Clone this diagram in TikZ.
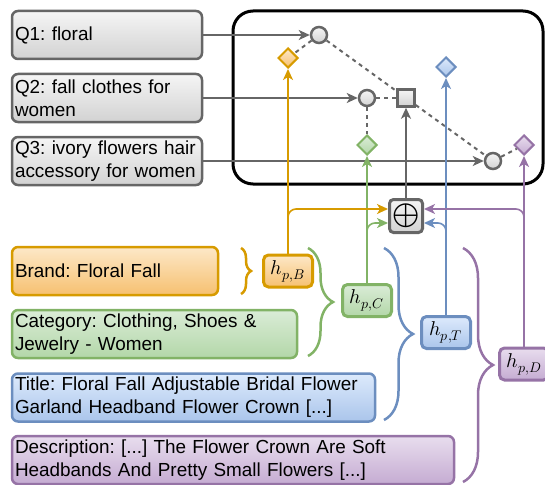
\documentclass[tikz,border=0pt]{standalone}
\usepackage{amsmath}
\usepackage{fontspec}
\usepackage{unicode-math}
\setmainfont{Liberation Sans}
\setmathfont{Latin Modern Math}
\usetikzlibrary{arrows.meta,shapes.geometric,decorations.pathreplacing,positioning}
\frenchspacing

\definecolor{grayline}{HTML}{666666}
\definecolor{grayTop}{HTML}{F5F5F5}
\definecolor{grayBot}{HTML}{D2D2D2}
\definecolor{orangeline}{HTML}{D79B00}
\definecolor{orangeTop}{HTML}{FDE8C8}
\definecolor{orangeBot}{HTML}{F6C070}
\definecolor{greenline}{HTML}{82B366}
\definecolor{greenTop}{HTML}{DAECD7}
\definecolor{greenBot}{HTML}{B3D7A8}
\definecolor{blueline}{HTML}{6C8EBF}
\definecolor{blueTop}{HTML}{DDEAFC}
\definecolor{blueBot}{HTML}{AAC5EB}
\definecolor{purpleline}{HTML}{9673A6}
\definecolor{purpleTop}{HTML}{E8DDEE}
\definecolor{purpleBot}{HTML}{C5ACD2}

\tikzset{
  field/.style={rounded corners=6pt,line width=2.5pt,align=left,minimum height=48pt,
    inner xsep=3pt,inner ysep=0pt,font=\fontsize{18.9}{23}\selectfont},
  graybox/.style={draw=grayline,top color=grayTop,bottom color=grayBot},
  orangebox/.style={draw=orangeline,top color=orangeTop,bottom color=orangeBot},
  greenbox/.style={draw=greenline,top color=greenTop,bottom color=greenBot},
  bluebox/.style={draw=blueline,top color=blueTop,bottom color=blueBot},
  purplebox/.style={draw=purpleline,top color=purpleTop,bottom color=purpleBot},
  hbox/.style={rounded corners=5pt,line width=3pt,minimum width=49pt,minimum height=32pt,
    inner sep=0pt,font=\fontsize{20}{23}\selectfont},
  qdot/.style={circle,graybox,line width=2.5pt,minimum size=16pt,inner sep=0pt},
  mixbox/.style={rectangle,graybox,line width=2.5pt,minimum size=17pt,inner sep=0pt},
  dia/.style={diamond,aspect=1,line width=2pt,minimum size=20pt,inner sep=0pt},
  qline/.style={grayline,line width=2pt},
  dashline/.style={grayline,line width=2pt,dash pattern=on 4pt off 4pt},
  feat/.style={line width=1.6pt,rounded corners=8pt},
  fieldbrace/.style={line width=2.5pt,decorate},
}

\begin{document}
\begin{tikzpicture}[x=1pt,y=-1pt,>={Stealth[length=11pt,width=10pt,inset=3pt]}]
\useasboundingbox (0,0) rectangle (545,484);

% queries
\node[field,graybox,text width=184pt] (q1) at (107,35) {Q1: floral};
\node[field,graybox,text width=184pt] (q2) at (107,98) {Q2: fall clothes for\\women};
\node[field,graybox,text width=184pt] (q3) at (107,161) {Q3: ivory flowers hair\\accessory for women};

% scoring frame
\node[draw,line width=3pt,rounded corners=20pt,minimum width=310pt,minimum height=173pt] (frame) at (388,97.5) {};
\node[qdot] (c1) at (319,35) {};
\node[qdot] (c2) at (367,98) {};
\node[qdot] (c3) at (493,161) {};
\node[mixbox] (sq) at (406,98) {};
\node[dia,orangebox] (dB) at (288,58) {};
\node[dia,greenbox] (dC) at (367,145) {};
\node[dia,bluebox] (dT) at (446,67) {};
\node[dia,purplebox] (dD) at (524,145) {};

\draw[qline,->] (q1) -- (c1);
\draw[qline,->] (q2) -- (c2);
\draw[qline,->] (q3) -- (c3);
\draw[dashline] (c1) -- (dB);
\draw[dashline] (c1) -- (sq);
\draw[dashline] (c2) -- (sq);
\draw[dashline] (c2) -- (dC);
\draw[dashline] (sq) -- (c3);
\draw[dashline] (c3) -- (dD);

% product fields
\node[field,orangebox,text width=200pt] (brand) at (115,271) {Brand: Floral Fall};
\node[field,greenbox,text width=279pt] (cat) at (154.5,334) {Category: Clothing, Shoes \&\\Jewelry - Women};
\node[field,bluebox,text width=357pt] (title) at (193.5,397.5) {Title: Floral Fall Adjustable Bridal Flower\\Garland Headband Flower Crown [...]};
\node[field,purplebox,text width=436pt] (desc) at (233,460) {Description: [...] The Flower Crown Are Soft\\Headbands And Pretty Small Flowers [...]};

\draw[fieldbrace,orangeline,decoration={brace,amplitude=10pt}] (241,248) -- (241,294);
\draw[fieldbrace,greenline,decoration={brace,amplitude=25pt}] (308,248) -- (308,356);
\draw[fieldbrace,blueline,decoration={brace,amplitude=29pt}] (384,248) -- (384,420);
\draw[fieldbrace,purpleline,decoration={brace,amplitude=30pt}] (463,248) -- (463,482);

\node[hbox,orangebox] (hB) at (288,271) {$h_{p,B}$};
\node[hbox,greenbox] (hC) at (367,300.5) {$h_{p,C}$};
\node[hbox,bluebox] (hT) at (446,332.5) {$h_{p,T}$};
\node[hbox,purplebox] (hD) at (524,364) {$h_{p,D}$};

% combination
\node[graybox,line width=3pt,rounded corners=4pt,minimum size=33pt,inner sep=0pt] (plus) at (406,216) {\fontsize{35}{35}\selectfont$\oplus$};
\draw[qline,line width=1.6pt,->] (plus) -- (sq);

\draw[feat,orangeline,->] (hB) -- (dB);
\draw[feat,greenline,->] (hC) -- (dC);
\draw[feat,blueline,->] (hT) -- (dT);
\draw[feat,purpleline,->] (hD) -- (dD);
\draw[feat,orangeline,->] (hB.north) |- ([yshift=7pt]plus.west);
\draw[feat,greenline,->] (hC.north) |- ([yshift=-7pt]plus.west);
\draw[feat,blueline,->] (hT.north) |- ([yshift=-7pt]plus.east);
\draw[feat,purpleline,->] (hD.north) |- ([yshift=7pt]plus.east);
\end{tikzpicture}
\end{document}
